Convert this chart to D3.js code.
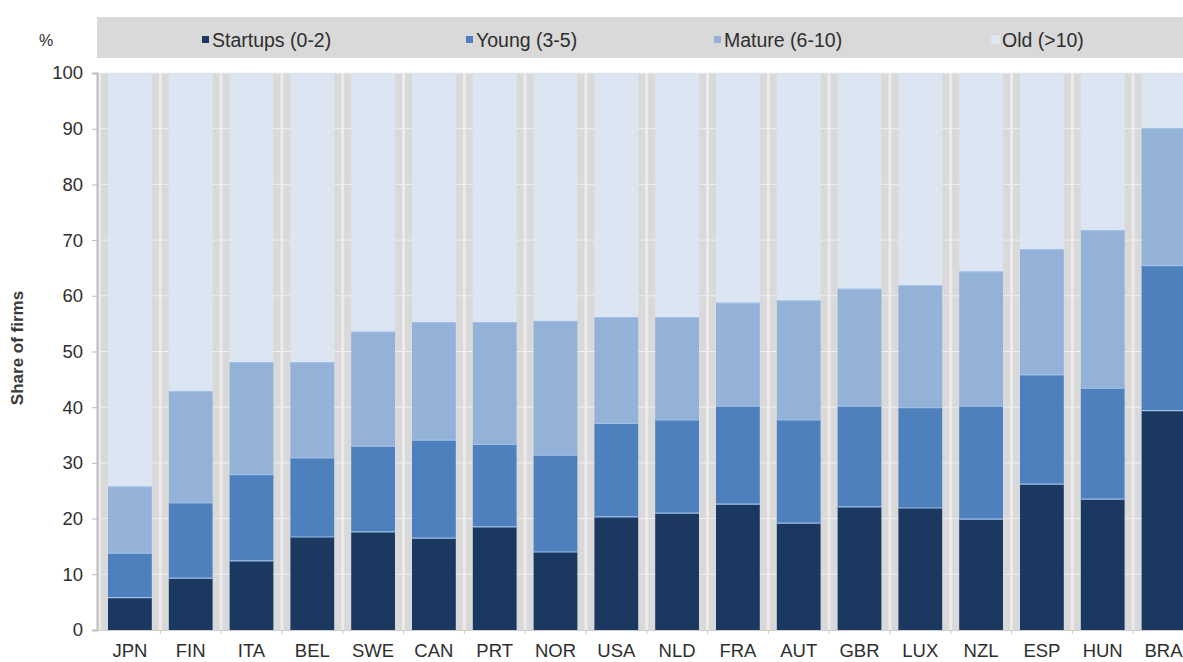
<!DOCTYPE html>
<html>
<head>
<meta charset="utf-8">
<script src="https://cdn.jsdelivr.net/npm/d3@7"></script>
<style>
  html, body { margin: 0; padding: 0; background: #ffffff; }
  svg { display: block; font-family: "Liberation Sans", Arial, sans-serif; }
</style>
</head>
<body>
<svg id="chart" width="1183" height="662"></svg>
<script>
// Countries, ordered by the share of firms younger than 11 years
const countries = ["JPN","FIN","ITA","BEL","SWE","CAN","PRT","NOR","USA","NLD","FRA","AUT","GBR","LUX","NZL","ESP","HUN","BRA"];

// Share of firms (%) by firm age
const startups = [5.8, 9.3, 12.4, 16.7, 17.6, 16.5, 18.5, 14.0, 20.3, 21.0, 22.6, 19.2, 22.1, 21.9, 19.9, 26.2, 23.5, 39.4];
const young    = [8.0, 13.5, 15.5, 14.2, 15.4, 17.6, 14.8, 17.4, 16.8, 16.7, 17.6, 18.5, 18.1, 18.0, 20.3, 19.6, 19.9, 26.0];
const mature   = [11.9, 20.0, 20.1, 17.1, 20.5, 21.1, 21.9, 24.0, 19.0, 18.4, 18.5, 21.4, 21.0, 21.9, 24.1, 22.5, 28.3, 24.6];
const old      = [74.3, 57.2, 52.0, 52.0, 46.5, 44.8, 44.8, 44.6, 43.9, 43.9, 41.3, 40.9, 38.8, 38.2, 35.7, 31.7, 28.3, 10.0];

const seriesKeys = ["startups", "young", "mature", "old"];
const seriesLabels = ["Startups (0-2)", "Young (3-5)", "Mature (6-10)", "Old (>10)"];
const seriesColors = ["#1b3860", "#4d80bd", "#94b2d8", "#dce6f2"];

const yTicks = [0, 10, 20, 30, 40, 50, 60, 70, 80, 90, 100];

const rows = countries.map((c, i) => ({
  country: c, startups: startups[i], young: young[i], mature: mature[i], old: old[i]
}));

const W = 1183, H = 662;
const plot = { left: 97, right: 1183, top: 73, bottom: 630 };
const textColor = "#2e2e2e";

const svg = d3.select("#chart");

const x = d3.scaleBand()
  .domain(countries)
  .range([99.5, 99.5 + 60.8 * countries.length])
  .paddingInner(0.28)
  .paddingOuter(0.14);

const y = d3.scaleLinear().domain([0, 100]).range([plot.bottom, plot.top]);

svg.append("defs").append("clipPath").attr("id", "plotclip")
  .append("rect")
  .attr("x", plot.left).attr("y", plot.top - 2)
  .attr("width", plot.right - plot.left).attr("height", plot.bottom - plot.top + 2);

// Legend strip
svg.append("rect")
  .attr("x", 97).attr("y", 17).attr("width", W - 97).attr("height", 41)
  .attr("fill", "#d9d9d9");

svg.append("text")
  .attr("x", 39).attr("y", 46)
  .attr("font-size", 16).attr("fill", textColor)
  .text("%");

const legendX = [202, 466, 714, 992];
const leg = svg.append("g").selectAll("g")
  .data(seriesKeys)
  .join("g")
  .attr("transform", (d, i) => `translate(${legendX[i]},0)`);
leg.append("rect")
  .attr("x", 0).attr("y", 36).attr("width", 7).attr("height", 7)
  .attr("fill", (d, i) => seriesColors[i])
  .attr("stroke", (d, i) => i === 3 ? "#e8eef6" : "none");
leg.append("text")
  .attr("x", 10).attr("y", 46.5)
  .attr("font-size", 19.5).attr("fill", textColor)
  .text((d, i) => seriesLabels[i]);

// Plot background
const g = svg.append("g").attr("clip-path", "url(#plotclip)");
g.append("rect")
  .attr("x", plot.left).attr("y", plot.top)
  .attr("width", plot.right - plot.left).attr("height", plot.bottom - plot.top)
  .attr("fill", "#d9d9d9");

// Light separators between categories
const gapHalf = (x.step() - x.bandwidth()) / 2;
g.append("g").selectAll("line")
  .data(countries)
  .join("line")
  .attr("x1", d => x(d) - gapHalf).attr("x2", d => x(d) - gapHalf)
  .attr("y1", plot.top).attr("y2", plot.bottom)
  .attr("stroke", "#ebebeb").attr("stroke-width", 3);

// Horizontal gridlines
g.append("g").selectAll("line")
  .data(yTicks.slice(1))
  .join("line")
  .attr("x1", plot.left).attr("x2", plot.right)
  .attr("y1", d => y(d)).attr("y2", d => y(d))
  .attr("stroke", "#efefef").attr("stroke-width", 1);

// Stacked bars
const stacked = d3.stack().keys(seriesKeys)(rows);
const layers = g.append("g").selectAll("g")
  .data(stacked)
  .join("g")
  .attr("fill", (d, i) => seriesColors[i]);
layers.selectAll("rect")
  .data(d => d)
  .join("rect")
  .attr("x", d => x(d.data.country))
  .attr("width", x.bandwidth())
  .attr("y", d => y(d[1]))
  .attr("height", d => y(d[0]) - y(d[1]));

// Thin light edges at the top of each inner segment
g.append("g").selectAll("g")
  .data(stacked.slice(0, 3))
  .join("g")
  .selectAll("line")
  .data(d => d)
  .join("line")
  .attr("x1", d => x(d.data.country)).attr("x2", d => x(d.data.country) + x.bandwidth())
  .attr("y1", d => y(d[1])).attr("y2", d => y(d[1]))
  .attr("stroke", "#9fc0e8").attr("stroke-width", 1.2);

// Y axis
const yAxis = svg.append("g")
  .attr("transform", `translate(${plot.left},0)`)
  .call(d3.axisLeft(y).tickValues(yTicks).tickSize(5).tickPadding(9));
yAxis.select(".domain").attr("stroke", "#bdbdbd").attr("stroke-width", 2);
yAxis.selectAll(".tick line").attr("stroke", "#bdbdbd");
yAxis.selectAll(".tick text")
  .attr("font-size", 18.5).attr("fill", textColor)
  .attr("font-family", "'Liberation Sans', Arial, sans-serif");

svg.append("text")
  .attr("transform", "translate(23,348) rotate(-90)")
  .attr("text-anchor", "middle")
  .attr("font-size", 17).attr("font-weight", "bold").attr("fill", "#3a3a3a")
  .text("Share of firms");

// X axis
svg.append("line")
  .attr("x1", plot.left).attr("x2", plot.right)
  .attr("y1", plot.bottom + 0.5).attr("y2", plot.bottom + 0.5)
  .attr("stroke", "#d0d0d0");
svg.append("g").selectAll("line")
  .data(countries.slice(1))
  .join("line")
  .attr("x1", d => x(d) - gapHalf).attr("x2", d => x(d) - gapHalf)
  .attr("y1", plot.bottom).attr("y2", plot.bottom + 4)
  .attr("stroke", "#c8c8c8");
svg.append("g").selectAll("text")
  .data(countries)
  .join("text")
  .attr("x", d => x(d) + x.bandwidth() / 2)
  .attr("y", 657)
  .attr("text-anchor", "middle")
  .attr("font-size", 18.5).attr("fill", textColor)
  .text(d => d);
</script>
</body>
</html>
